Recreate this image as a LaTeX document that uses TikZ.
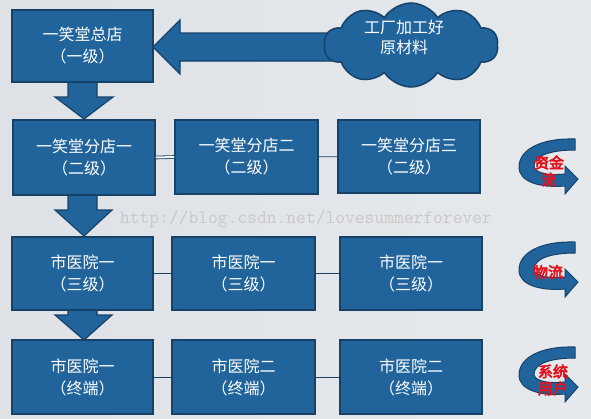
\documentclass[tikz,border=0pt]{standalone}
\usepackage{fontspec}
\newfontfamily\cjk{Noto Sans CJK SC}
\newfontfamily\cjkbold[FakeBold=4]{Noto Sans CJK SC}
\usetikzlibrary{shapes.symbols,calc,arrows.meta}
\definecolor{boxblue}{RGB}{33,100,156}
\definecolor{boxedge}{RGB}{22,66,104}
\definecolor{bgl}{RGB}{222,226,231}
\definecolor{bgm}{RGB}{243,244,245}
\definecolor{bgr}{RGB}{230,233,236}
\definecolor{lblred}{RGB}{228,18,28}
\definecolor{wmgray}{RGB}{200,200,200}
\begin{document}
\begin{tikzpicture}[x=1pt,y=-1pt,
  box/.style={rectangle, fill=boxblue, draw=boxedge, line width=1.5pt, text=white,
    font=\cjk\fontsize{16}{22}\selectfont, align=center, inner sep=0pt,
    minimum width=142pt, minimum height=74pt},
  blockarrow/.style={fill=boxblue, draw=boxedge, line width=1.2pt, line join=miter},
  link/.style={draw=boxedge, line width=0.8pt},
  ribbon/.style={fill=boxblue, draw=boxedge, line width=1pt},
  flowlbl/.style={text=lblred, font=\cjkbold\fontsize{15}{17}\selectfont, align=center, inner sep=0pt}]
\useasboundingbox (0,0) rectangle (591,418);
\shade[left color=bgl, middle color=bgm, right color=bgr] (0,0) rectangle (591,418);

% big left arrow from the cloud
\draw[blockarrow] (335,33) -- (180,33) -- (180,20) -- (153,47) -- (180,74) -- (180,61) -- (335,61) -- cycle;
\node[cloud, cloud puffs=10, cloud puff arc=115, cloud ignores aspect, minimum width=174pt,
  minimum height=84pt, fill=boxblue, draw=boxedge, line width=1.5pt] (cloud) at (411,45) {};
\node[text=white, font=\cjk\fontsize{16}{20}\selectfont, align=center] (cloudtxt) at (404,37) {工厂加工好\\原材料};

% down arrows
\draw[blockarrow] (68,82) -- (97,82) -- (97,97) -- (113,97) -- (84,119) -- (55,97) -- (68,97) -- cycle;
\draw[blockarrow] (68,195) -- (97,195) -- (97,210) -- (112,210) -- (84,236) -- (55,210) -- (68,210) -- cycle;
\draw[blockarrow] (68,310) -- (97,310) -- (97,315) -- (112,315) -- (84,340) -- (55,315) -- (68,315) -- cycle;

% boxes
\node[box, minimum width=141pt, minimum height=72pt] (hq) at (82.5,46) {一笑堂总店\\（一级）};

\node[box, minimum height=75pt] (s1) at (84,157.5) {一笑堂分店一\\（二级）};
\node[box, minimum width=143pt] (s2) at (246.5,157) {一笑堂分店二\\（二级）};
\node[box, minimum height=73pt] (s3) at (409,156.5) {一笑堂分店三\\（二级）};

\node[box, minimum width=141pt, minimum height=73pt] (h1) at (82.5,273.5) {市医院一\\（三级）};
\node[box, minimum width=143pt, minimum height=73pt] (h2) at (243.5,273.5) {市医院一\\（三级）};
\node[box, minimum height=73pt] (h3) at (411,273.5) {市医院一\\（三级）};

\node[box, minimum width=141pt] (t1) at (82.5,377) {市医院一\\（终端）};
\node[box, minimum width=143pt] (t2) at (243.5,377) {市医院二\\（终端）};
\node[box] (t3) at (411,377) {市医院二\\（终端）};

% connectors
\draw[draw=boxedge, line width=0.8pt, double=bgm, double distance=2pt] (s1.east) -- (s2.west);
\draw[link] (s2) -- (s3);
\draw[link] (h1) -- (h2);
\draw[link] (h2) -- (h3);
\draw[link] (t1) -- (t2);
\draw[link] (t2) -- (t3);

% watermark
\node[font=\ttfamily\fontsize{19}{20}\selectfont, text=wmgray, inner sep=0pt] (wm) at (306,219) {http://blog.csdn.net/lovesummerforever};

% circular flow ribbons
\foreach \cy in {167, 270, 375} {
  \begin{scope}[shift={(548,\cy)}]
    \draw[ribbon] (27,-28) .. controls (-8,-29) and (-29,-17) .. (-29,0)
      .. controls (-29,15) and (-8,21) .. (17,19) -- (17,27) -- (30,12) -- (17,-1) -- (17,7)
      .. controls (-3,9) and (-14,5) .. (-14,-1)
      .. controls (-14,-11) and (2,-17) .. (27,-17) -- cycle;
  \end{scope}
}
\node[flowlbl] (l1) at (549,171) {资金\\流};
\node[flowlbl] (l2) at (548,272) {物流};
\node[flowlbl] (l3) at (553,380) {系统\\用户};
\end{tikzpicture}
\end{document}
